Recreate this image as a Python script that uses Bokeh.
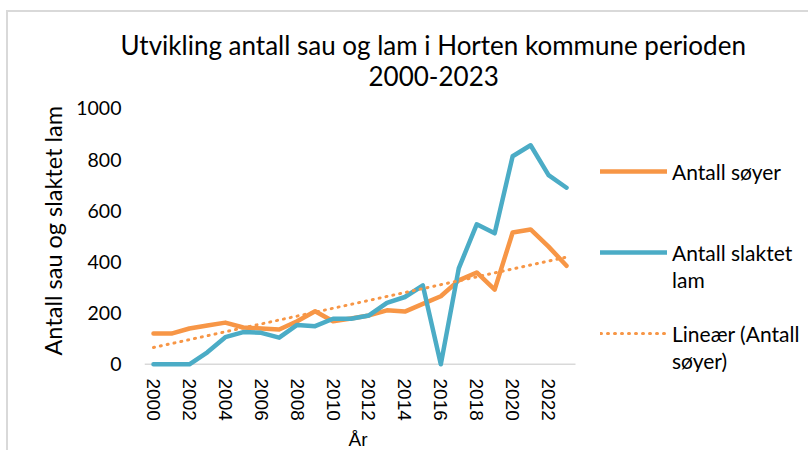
import numpy as np
from bokeh.plotting import figure
from bokeh.models import (Range1d, FixedTicker, Legend, LegendItem, Title)
from bokeh.embed import file_html
from bokeh.resources import INLINE

# ---- data ----
years = list(range(2000, 2024))
antall_soyer = [120, 120, 140, 152, 163, 144, 140, 136, 168, 207, 168, 179,
                191, 211, 206, 236, 266, 328, 359, 292, 515, 527, 460, 385]
antall_slaktet_lam = [0, 0, 0, 47, 106, 126, 123, 104, 154, 149, 178, 178,
                      191, 240, 263, 308, 0, 375, 547, 512, 813, 856, 739, 690]
x_tick_years = list(range(2000, 2023, 2))
y_tick_values = [0, 200, 400, 600, 800, 1000]

# linear trend line of "Antall søyer" (as Excel's Lineær trendline)
slope, intercept = np.polyfit(years, antall_soyer, 1)
trend_soyer = [slope * y + intercept for y in years]

# category band edges of the x axis (baseline drawn across them)
x_lo, x_hi = years[0] - 0.5, years[-1] + 0.5

ORANGE = "#F79646"
BLUE = "#4BACC6"
CAL = "Lato"

W, H = 802, 440
LEFT = 136
PLOT_W = 431                      # width of the category area in px
px_per_year = PLOT_W / (x_hi - x_lo)
x_end = x_lo + (W - LEFT) / px_per_year   # frame extends under the legend

p = figure(width=W, height=H, output_backend="svg", toolbar_location=None,
           x_range=Range1d(x_lo, x_end), y_range=Range1d(-32, 1027),
           min_border_left=LEFT, min_border_right=0,
           min_border_top=89, min_border_bottom=79)
p.outline_line_color = None
p.grid.visible = False
p.background_fill_color = "white"
p.border_fill_color = "white"
p.styles = {"margin-left": "6px", "margin-top": "10px",
            "border-left": "2px solid #d9d9d9", "border-top": "2px solid #d9d9d9"}

# baseline at 0 across the category area
p.line([x_lo, x_hi], [0, 0], line_color="#d9d9d9", line_width=1.5, level="underlay")

r_soyer = p.line(years, antall_soyer, line_color=ORANGE, line_width=4.5,
                 line_join="round", line_cap="round")
r_lam = p.line(years, antall_slaktet_lam, line_color=BLUE, line_width=4.5,
               line_join="round", line_cap="round")
r_trend = p.line(years, trend_soyer, line_color=ORANGE, line_width=3,
                 line_dash="1 6", line_cap="round")
r_blank = p.line([], [], line_alpha=0)

# axes
xa = p.xaxis[0]
xa.ticker = FixedTicker(ticks=x_tick_years)
xa.major_label_orientation = "vertical"
xa.axis_line_color = None
xa.major_tick_line_color = None
xa.minor_tick_line_color = None
xa.major_tick_out = 0
xa.major_label_standoff = 6
xa.major_label_text_font = "Liberation Sans"
xa.major_label_text_font_size = "19px"
xa.major_label_text_color = "black"

ya = p.yaxis[0]
ya.ticker = FixedTicker(ticks=y_tick_values)
ya.axis_line_color = None
ya.major_tick_line_color = None
ya.minor_tick_line_color = None
ya.major_tick_out = 0
ya.major_label_standoff = 23
ya.major_label_text_font = CAL
ya.major_label_text_font_size = "19.5px"
ya.major_label_text_color = "black"

# y axis title (left of the tick labels, placed along the value area)
p.add_layout(Title(text="Antall sau og slaktet lam", align="left", offset=17,
                   vertical_align="bottom", text_font=CAL, text_font_size="23.5px",
                   text_font_style="normal", text_color="black", standoff=13), "left")

# x axis title (below the tick labels)
p.add_layout(Title(text="År", align="left", offset=204, vertical_align="bottom",
                   text_font="Liberation Sans", text_font_size="19px",
                   text_font_style="normal", text_color="black", standoff=6), "below")

# chart title (two lines, stacked above the frame; the last added is outermost)
p.add_layout(Title(text="2000-2023", align="left", offset=224,
                   text_font=CAL, text_font_size="26px",
                   text_font_style="normal", text_color="black", standoff=31), "above")
p.add_layout(Title(text="Utvikling antall sau og lam i Horten kommune perioden",
                   align="left", offset=-24, text_font=CAL, text_font_size="26px",
                   text_font_style="normal", text_color="black", standoff=-25), "above")

# legend; blank rows keep the spacing of Excel's wrapped legend entries
legend = Legend(items=[LegendItem(label="Antall søyer", renderers=[r_soyer]),
                       LegendItem(label=" ", renderers=[r_blank]),
                       LegendItem(label=" ", renderers=[r_blank]),
                       LegendItem(label="Antall slaktet", renderers=[r_lam]),
                       LegendItem(label="lam", renderers=[r_blank]),
                       LegendItem(label=" ", renderers=[r_blank]),
                       LegendItem(label="Lineær (Antall", renderers=[r_trend]),
                       LegendItem(label="søyer)", renderers=[r_blank])],
                location=(456, -1), border_line_color=None,
                background_fill_alpha=0, padding=0, margin=0, spacing=1,
                glyph_width=67, glyph_height=26, label_height=26,
                label_standoff=5, label_text_font=CAL,
                label_text_font_size="21px", label_text_color="black")
p.add_layout(legend)

open("out.html", "w").write(file_html(p, INLINE))
